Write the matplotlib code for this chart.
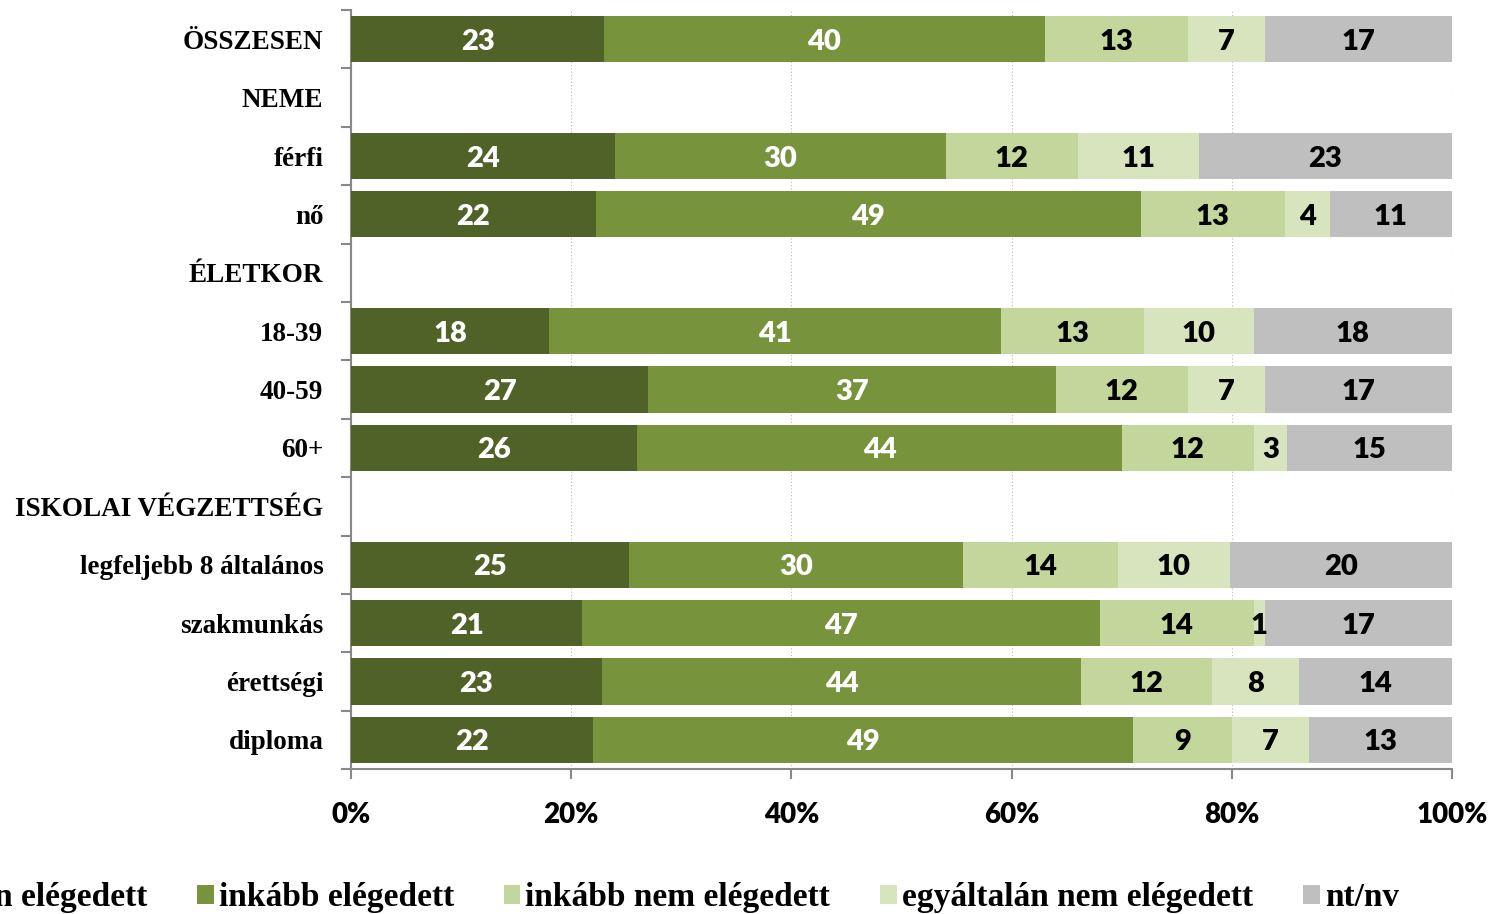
import numpy as np
import matplotlib.pyplot as plt
from matplotlib.ticker import FixedLocator, PercentFormatter

categories = ["ÖSSZESEN", "NEME", "férfi", "nő", "ÉLETKOR", "18-39", "40-59", "60+",
              "ISKOLAI VÉGZETTSÉG", "legfeljebb 8 általános", "szakmunkás",
              "érettségi", "diploma"]
series_names = ["teljesen elégedett", "inkább elégedett", "inkább nem elégedett",
                "egyáltalán nem elégedett", "nt/nv"]
# None marks a heading row with no bar
values = [
    [23, 40, 13, 7, 17],
    None,
    [24, 30, 12, 11, 23],
    [22, 49, 13, 4, 11],
    None,
    [18, 41, 13, 10, 18],
    [27, 37, 12, 7, 17],
    [26, 44, 12, 3, 15],
    None,
    [25, 30, 14, 10, 20],
    [21, 47, 14, 1, 17],
    [23, 44, 12, 8, 14],
    [22, 49, 9, 7, 13],
]
colors = ["#4F6228", "#77933C", "#C3D69B", "#D7E4BD", "#BFBFBF"]
text_colors = ["white", "white", "black", "black", "black"]

SERIF = "Liberation Serif"
SANS = "Lato"


def main():
    fig = plt.figure(figsize=(14.92, 9.14), dpi=100)
    ax = fig.add_axes([0.2353, 0.1586, 0.7379, 0.8304])

    rows = [i for i, v in enumerate(values) if v is not None]
    data = np.array([values[i] for i in rows], dtype=float)
    shares = data / data.sum(axis=1, keepdims=True) * 100

    left = np.zeros(len(rows))
    for k, name in enumerate(series_names):
        ax.barh(rows, shares[:, k], left=left, height=0.79,
                color=colors[k], label=name, zorder=3)
        for y, x0, w, v in zip(rows, left, shares[:, k], data[:, k]):
            ax.text(x0 + w / 2, y, str(int(v)), ha="center", va="center_baseline",
                    color=text_colors[k], fontsize=21, fontweight="heavy",
                    family=SANS, zorder=4)
        left += shares[:, k]

    ax.set_xlim(0, 100)
    ax.set_ylim(len(categories) - 0.5, -0.5)
    ax.set_yticks(range(len(categories)))
    ax.set_yticklabels(categories, fontsize=19.5, fontweight="bold", family=SERIF)
    ax.yaxis.set_minor_locator(FixedLocator(np.arange(-0.5, len(categories), 1)))
    ax.tick_params(axis="y", which="major", length=0, pad=20)
    ax.tick_params(axis="y", which="minor", length=7, width=1.5, color="#888888")

    ax.set_xticks(np.arange(0, 101, 20))
    ax.xaxis.set_major_formatter(PercentFormatter(decimals=0))
    ax.tick_params(axis="x", length=7, width=1.5, color="#888888", pad=17)
    for lbl in ax.get_xticklabels():
        lbl.set_fontsize(20)
        lbl.set_fontweight("heavy")
        lbl.set_family(SANS)

    ax.grid(axis="x", linestyle=(0, (1, 2)), color="#BBBBBB", linewidth=0.8, zorder=0)
    for side in ["top", "right"]:
        ax.spines[side].set_visible(False)
    for side in ["left", "bottom"]:
        ax.spines[side].set_color("#888888")
        ax.spines[side].set_linewidth(1.5)

    fig.legend(loc="center", bbox_to_anchor=(0.4295, 0.018), ncol=5, frameon=False,
               prop={"family": SERIF, "weight": "bold", "size": 24},
               handlelength=0.5, handleheight=0.5, handletextpad=0.15,
               columnspacing=1.5)

    fig.savefig("out.png", dpi=100)


if __name__ == "__main__":
    main()
